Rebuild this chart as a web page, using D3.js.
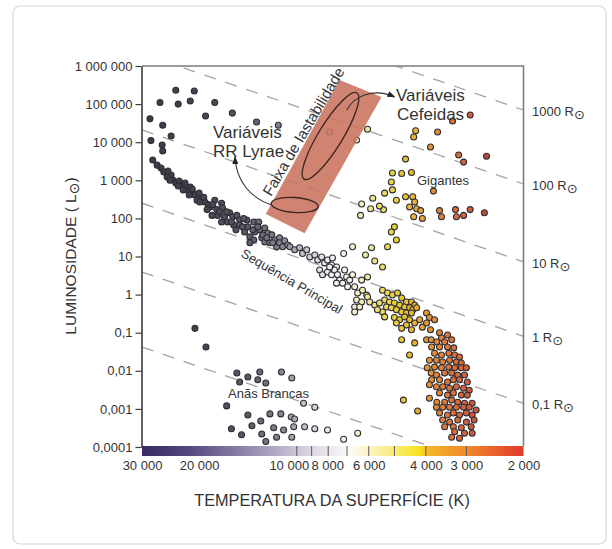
<!DOCTYPE html>
<html>
<head>
<meta charset="utf-8">
<script src="https://cdn.jsdelivr.net/npm/d3@7"></script>
<style>
body { margin: 0; background: #fff; }
svg text { font-family: "Liberation Sans", Arial, sans-serif; fill: #333; }
</style>
</head>
<body>
<div id="chart"></div>
<script>
// ---- data (temperature in K, luminosity in solar units) ----
var superT = [28350,26400,23600,23200,21300,20700,19100,25900,24400,28150,26000,25900,27800,17900,15800,13300,11400];
var superL = [41000,110000,230000,100000,120000,220000,49000,28000,14500,11000,8400,5900,3400,110000,58000,34000,28000];

// upper main sequence (hot stars)
var msHotT = [26200,25700,24950,24400,25100,24100,23600,23050,22600,22100,21800,21300,20900,20600,20000,19600,20300,19200,18750,18500,17900,17050,17650,16950,17550,18250,16700,16100,15750,15300,15000,17050,16350,15650,15000,14250,14150,13570,13100,13470,13000,12550,12280,11940,14480,13950,12820,13570,12550,12100,11700,11540,13950,
  26950,24600,23200,22400,21450,21000,19900,19350,18900,18150,17300,16450,15900,15400,14700,14580,13650,13200,12730,12370,11860,11300];
var msHotL = [2100,1650,1750,1380,1220,1020,850,960,710,850,560,670,460,410,460,340,300,270,230,200,300,250,170,190,120,120,110,140,110,120,91,80,80,67,67,91,60,80,80,44,50,56,41,37,44,33,31,27,24,23,27,18,23,
  2500,1000,710,560,410,590,270,360,170,230,150,150,80,50,60,100,50,60,37,31,23,31];

// middle main sequence (white / pale stars)
var msMidT = [11300,11050,10900,10650,10500,10150,9800,9600,9320,9120,8800,8620,8380,8210,8040,7810,7760,7540,8500,8330,8040,7810,7650,7490,7380,7120,7020,7220,6870,6730,6970,6630,7540,7920,6310,6490,6270,6090,6540,6310,6630,6400,6050,5960,6630,5750];
var msMidL = [23,18,26,20,18,15,17,12,15,9.7,11,8.1,9.7,6.8,8.1,6.0,9.1,5.3,4.4,3.3,3.9,3.3,4.4,3.3,2.4,4.4,2.9,2.0,2.4,3.3,1.6,1.6,2.0,5.3,2.4,1.1,1.3,0.97,0.72,0.64,0.47,0.47,0.87,0.64,0.35,0.53];

// giants, supergiants and stars in the instability strip
var giantT = [5070,5110,5070,5360,4930,5830,6310,5400,5920,6360,5000,5110,4930,5250,5880,6730,7170,6140,5750,5440,6050,4620,4750,4430,4620,4390,4330,4490,4270,4150,4360,4100,4300,4360,3680,3870,3790,3630,3580,3240,3220,3060,2920,2640,3310,2920,3170,3060,2600,6050,5560,7920,6540];
var giantL = [1560,900,560,460,300,340,240,170,180,120,60,44,27,18,17,18,12,11,7.6,5.3,2.9,3600,1500,1600,370,370,270,200,180,160,110,100,20000,13700,18500,7500,520,160,110,170,110,120,170,140,36000,52000,4600,3000,4300,22000,210,18500,11400];

// lower main sequence (yellow, orange and red dwarfs)
var msCoolT = [5440,5250,5070,4890,4750,4590,4430,4330,5360,5180,5000,4820,4650,4490,4390,5290,5110,4930,4750,4590,4430,4270,5000,4820,4650,4490,4590,4750,4430,4330,4180,3980,4100,3900,3760,3980,4930,5440,5640,5560,5360,4750,4330,4490,3980,3870,3630,
  3430,3580,3850,3330,3700,3500,3840,3630,3430,3280,3760,3400,3580,3260,3150,3900,3710,3380,3550,3220,3110,3960,3580,3260,3110,3000,3760,3400,3850,3500,3330,3710,3190,3040,3840,3630,3290,3150,3430,2980,3900,3710,3550,3380,3220,3060,2940,3630,3430,3290,3110,2980,3900,3700,3500,3330,3190,3040,2880,3710,3550,3380,3220,3060,2940,2800,3630,3430,3290,3150,3000,2880,3550,3380,3190,3000,2840,3500,3290,3110,2900,3260,3040,2880,3330,3150,
  4690,4240,6490,7170];
var msCoolL = [1.3,1.1,0.98,1.1,0.81,0.64,0.64,0.53,0.72,0.64,0.60,0.53,0.47,0.45,0.40,0.47,0.45,0.40,0.35,0.33,0.33,0.45,0.25,0.22,0.26,0.22,0.16,0.13,0.12,0.18,0.22,0.33,0.14,0.25,0.22,0.18,0.18,0.35,0.40,0.60,0.26,0.065,0.054,0.026,0.065,0.12,0.10,
  0.087,0.073,0.065,0.065,0.057,0.057,0.042,0.042,0.042,0.040,0.029,0.029,0.026,0.026,0.023,0.019,0.019,0.019,0.017,0.017,0.016,0.012,0.012,0.012,0.012,0.012,0.0125,0.0125,0.0088,0.0088,0.0088,0.0078,0.0078,0.0078,0.0058,0.0058,0.0058,0.0058,0.0051,0.0051,0.0043,0.0038,0.0038,0.0035,0.0038,0.0035,0.0031,0.0026,0.0023,0.0026,0.0023,0.0023,0.0019,0.0015,0.0015,0.0017,0.0015,0.0014,0.0014,0.0011,0.0011,0.0011,0.0011,0.0011,0.0011,0.00094,0.00078,0.00069,0.00078,0.00069,0.00078,0.00069,0.00051,0.00045,0.00051,0.00045,0.00051,0.00034,0.00034,0.00032,0.00034,0.00025,0.00023,0.00023,0.00018,0.00017,
  0.0017,0.00088,0.00023,0.00016];

// white dwarfs
var dwarfT = [20600,19050,15300,14150,13000,11150,15000,13190,12460,10360,9530,8800,16450,14150,12100,11200,10400,10150,12910,13750,15900,14800,12820,11780,10980,10220,9460,8800,8040,11540,10360,12460];
var dwarfL = [0.13,0.042,0.0088,0.0069,0.0093,0.0093,0.0051,0.0058,0.0048,0.0065,0.0014,0.0011,0.0012,0.00069,0.00074,0.00074,0.00061,0.00054,0.00048,0.00036,0.0003,0.00021,0.00022,0.00032,0.00028,0.00034,0.00034,0.0003,0.00028,0.00018,0.00018,0.00014];

// axes
var lumTicks = [1e6,1e5,1e4,1e3,100,10,1,0.1,0.01,0.001,0.0001];
var lumTickLabels = ["1 000 000","100 000","10 000","1 000","100","10","1","0,1","0,01","0,001","0,0001"];
var tempTicks = [30000,20000,10000,8000,6000,4000,3000,2000];
var tempTickLabels = ["30 000","20 000","10 000","8 000","6 000","4 000","3 000","2 000"];
var barTicks = [10000,9000,8000,7000,6000,5000,4000,3000];

// lines of constant radius (luminosity at 30 000 K and at 2 000 K)
var radiusLabels = ["1000","100","10","1","0,1",""];
var radiusLeftL = [2e8,2.1e6,2.1e4,250,3.9,0.042];
var radiusRightL = [7.0e4,800,7.2,0.08,0.0014,1.5e-5];

// colour scale
var colorBarT = [30000,22000,15000,11000,9000,7500,6800,6000,5000,4200,3950,3500,3000,2500,2000];
var colorBarC = ["#3a2963","#52447c","#8a7ea6","#bcb3cc","#dcd6e3","#f2eff3","#fcfbf3","#fcf4c4","#f9ec76","#f8e21a","#f6b82a","#f3a02c","#f08a2e","#e8652d","#e03b2a"];
var starColorT = [30000,20000,14000,11000,9500,8000,7000,6300,5600,5000,4500,4000,3500,3000,2600];
var starColorC = ["#3d3847","#47424f","#5d5968","#8b8895","#c4c2c9","#eeedf0","#f8f6f0","#f2edb4","#ece072","#e6d23a","#e6bd34","#e59b36","#df7b3a","#cf613c","#b84a3a"];

// instability strip (corners)
var stripT = [12460,7380,5480,9460];
var stripL = [130,429000,153000,41];

var svg = d3.select("#chart").append("svg")
    .attr("width", 612)
    .attr("height", 549);

svg.append("rect")
    .attr("x", 13).attr("y", 6)
    .attr("width", 593).attr("height", 538)
    .attr("rx", 7)
    .attr("fill", "#fff")
    .attr("stroke", "#d6d6d6")
    .attr("stroke-width", 1.2);

var x = d3.scaleLog().domain([30000, 2000]).range([142, 523.5]);
var y = d3.scaleLog().domain([1e6, 1e-4]).range([66, 447]);
var starColor = d3.scaleLog().domain(starColorT).range(starColorC).clamp(true);

var defs = svg.append("defs");
defs.append("clipPath").attr("id", "plotClip")
    .append("rect")
    .attr("x", 142).attr("y", 66)
    .attr("width", 381.5).attr("height", 380);

var grad = defs.append("linearGradient").attr("id", "tempGrad")
    .attr("x1", "0%").attr("x2", "100%").attr("y1", "0%").attr("y2", "0%");
colorBarT.forEach(function(t, i){
    grad.append("stop")
        .attr("offset", ((x(t) - 142) / 381.5 * 100) + "%")
        .attr("stop-color", colorBarC[i]);
});

defs.append("marker").attr("id", "arrow")
    .attr("viewBox", "0 0 8 6")
    .attr("refX", 7).attr("refY", 3)
    .attr("markerWidth", 8).attr("markerHeight", 6)
    .attr("markerUnits", "userSpaceOnUse")
    .attr("orient", "auto")
    .append("path").attr("d", "M0,0 L8,3 L0,6 z").attr("fill", "#222");

var plot = svg.append("g").attr("clip-path", "url(#plotClip)");

//dashed lines of equal radius
plot.selectAll("line.radius").data(radiusLeftL).enter().append("line")
    .attr("class", "radius")
    .attr("x1", x(30000)).attr("y1", function(d){ return y(d); })
    .attr("x2", x(2000)).attr("y2", function(d, i){ return y(radiusRightL[i]); })
    .attr("stroke", "#a3a3a3")
    .attr("stroke-width", 1.3)
    .attr("stroke-dasharray", "12,10");

//stars
var groups = [[superT, superL], [msHotT, msHotL], [msMidT, msMidL], [giantT, giantL], [msCoolT, msCoolL], [dwarfT, dwarfL]];
var stars = [];
groups.forEach(function(g){
    g[0].forEach(function(t, i){ stars.push({t: t, l: g[1][i]}); });
});

plot.selectAll("circle.star").data(stars).enter().append("circle")
    .attr("class", "star")
    .attr("cx", function(d){ return x(d.t); })
    .attr("cy", function(d){ return y(d.l); })
    .attr("r", 3)
    .attr("fill", function(d){ return starColor(d.t); })
    .attr("stroke", "#2f2d33")
    .attr("stroke-width", 1.05);

//instability strip
plot.append("polygon")
    .attr("points", stripT.map(function(t, i){ return x(t) + "," + y(stripL[i]); }).join(" "))
    .attr("fill", "#c8725c")
    .attr("fill-opacity", 0.88);

// ellipses of the variable stars
var ell = [{t: 7870, l: 14500, rx: 50.5, ry: 12, a: -58.5}, {t: 10150, l: 225, rx: 23.5, ry: 7.5, a: 4}];
svg.selectAll("ellipse.var").data(ell).enter().append("ellipse")
    .attr("class", "var")
    .attr("cx", 0).attr("cy", 0)
    .attr("rx", function(d){ return d.rx; })
    .attr("ry", function(d){ return d.ry; })
    .attr("transform", function(d){ return "translate(" + x(d.t) + "," + y(d.l) + ") rotate(" + d.a + ")"; })
    .attr("fill", "none")
    .attr("stroke", "#3a2420")
    .attr("stroke-width", 1.3);

// arrows
function curve(p){
    return "M" + x(p[0][0]) + "," + y(p[0][1]) +
        " C" + x(p[1][0]) + "," + y(p[1][1]) + " " +
        x(p[2][0]) + "," + y(p[2][1]) + " " + x(p[3][0]) + "," + y(p[3][1]);
}
var arrows = [
    [[11940, 225], [13950, 343], [15400, 1020], [15500, 4090]],
    [[7010, 70000], [6630, 173000], [5750, 265000], [5000, 154000]]
];
svg.selectAll("path.arrow").data(arrows).enter().append("path")
    .attr("class", "arrow")
    .attr("d", curve)
    .attr("fill", "none")
    .attr("stroke", "#333")
    .attr("stroke-width", 1.1)
    .attr("marker-end", "url(#arrow)");

// frame
svg.append("path")
    .attr("d", "M142,66 H523.5 V446")
    .attr("fill", "none")
    .attr("stroke", "#7c7c7c")
    .attr("stroke-width", 1.6);

// luminosity axis
var yAxis = svg.append("g")
    .attr("transform", "translate(141.5,0)")
    .call(d3.axisLeft(y).tickValues(lumTicks)
        .tickFormat(function(d, i){ return lumTickLabels[i]; })
        .tickSize(6).tickSizeOuter(0).tickPadding(3));
yAxis.select(".domain").attr("stroke", "#3c3c3c").attr("stroke-width", 1.6);
yAxis.selectAll(".tick line").attr("stroke", "#3c3c3c").attr("stroke-width", 1.2);
yAxis.selectAll(".tick text")
    .style("font-family", "'Liberation Sans', Arial, sans-serif")
    .style("font-size", "13px").attr("fill", "#333");

// temperature colour bar
svg.append("rect")
    .attr("x", 142).attr("y", 446)
    .attr("width", 381.5).attr("height", 10)
    .attr("fill", "url(#tempGrad)");
svg.selectAll("line.barTick").data(barTicks).enter().append("line")
    .attr("class", "barTick")
    .attr("x1", function(d){ return x(d); }).attr("x2", function(d){ return x(d); })
    .attr("y1", 446).attr("y2", 456)
    .attr("stroke", "#5a5a5a").attr("stroke-width", 1);

var xAxis = svg.append("g")
    .attr("transform", "translate(0,456)")
    .call(d3.axisBottom(x).tickValues(tempTicks)
        .tickFormat(function(d, i){ return tempTickLabels[i]; })
        .tickSize(0).tickPadding(5));
xAxis.select(".domain").remove();
xAxis.selectAll(".tick text")
    .style("font-family", "'Liberation Sans', Arial, sans-serif")
    .style("font-size", "13px").attr("fill", "#333")
    .attr("dx", function(d){ return d == 10000 ? -8 : (d == 8000 ? -1 : 0); });

// radius labels
var rl = svg.selectAll("text.rlab").data(radiusLabels.filter(function(d){ return d != ""; })).enter()
    .append("text")
    .attr("class", "rlab")
    .attr("x", 532)
    .attr("y", function(d, i){ return y(radiusRightL[i]) + 6; })
    .style("font-size", "13px");
rl.append("tspan").text(function(d){ return d + " R"; });
rl.append("tspan").text("\u2299")
    .attr("dy", 3)
    .style("font-family", "'DejaVu Sans', sans-serif")
    .style("font-size", "13px");

// axis titles
var yt = svg.append("text")
    .attr("transform", "translate(76,256) rotate(-90)")
    .attr("text-anchor", "middle")
    .style("font-size", "15.5px");
yt.append("tspan").text("LUMINOSIDADE ( L");
yt.append("tspan").text("\u2299").attr("dy", 3)
    .style("font-family", "'DejaVu Sans', sans-serif").style("font-size", "14px");
yt.append("tspan").text(")").attr("dy", -3);

svg.append("text")
    .attr("x", 332).attr("y", 506)
    .attr("text-anchor", "middle")
    .style("font-size", "16.3px")
    .text("TEMPERATURA DA SUPERFÍCIE (K)");

// annotations
function label(txt, px, py, size, color, rot){
    svg.append("text")
        .attr("transform", "translate(" + px + "," + py + ")" + (rot ? " rotate(" + rot + ")" : ""))
        .style("font-size", size + "px")
        .attr("fill", color)
        .text(txt);
}
label("Variáveis", 213, 138, 17, "#222");
label("RR Lyrae", 213, 157, 17, "#222");
label("Variáveis", 396, 101, 17, "#222");
label("Cefeidas", 397, 120, 17, "#222");
label("Gigantes", 417, 185, 13, "#444");
label("Anãs Brancas", 228, 398, 13, "#444");
label("Sequência Principal", 240, 256, 13, "#444", 30.5);
label("Faixa de Iastabilidade", 271, 197, 15, "#222", -59.5);
</script>
</body>
</html>
